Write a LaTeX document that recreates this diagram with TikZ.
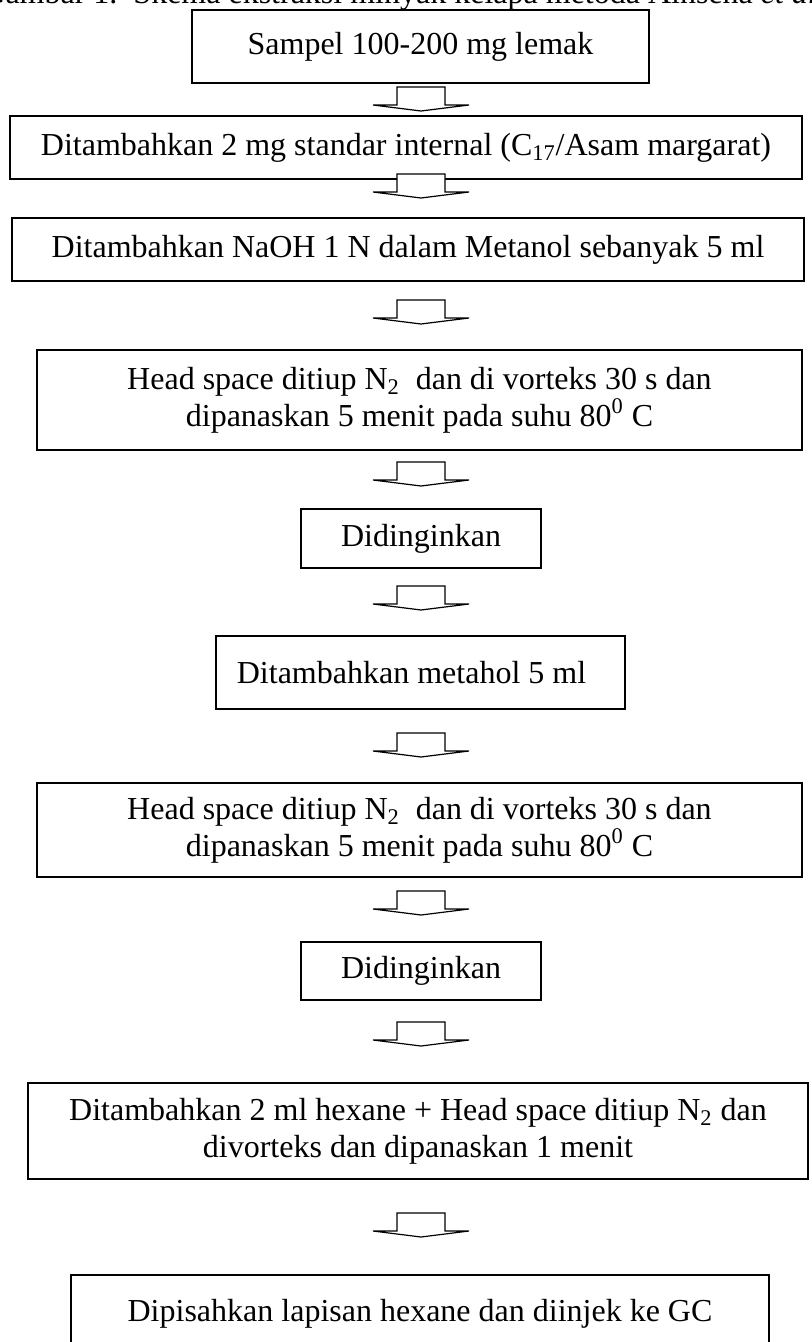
\documentclass[tikz,border=0pt]{standalone}
\usepackage{fontspec}
\setmainfont{Liberation Serif}
\begin{document}
\begin{tikzpicture}[x=0.5pt,y=-0.5pt,
  txt/.style={font=\fontsize{16}{18.5}\selectfont},
  box/.style={draw, line width=0.75pt, inner sep=0pt, align=center, txt},
  darrow/.pic={\draw[line width=0.6pt, line join=miter, fill=white]
      (-24,0) -- (24,0) -- (24,18) -- (48,18) -- (0,24) -- (-48,18) -- (-24,18) -- cycle;}
  ]
\useasboundingbox (0,0) rectangle (811,1342);
\node[txt, anchor=base west, inner sep=0pt] (cap) at (-18,4)
  {Gambar 1.\ \ Skema ekstraksi minyak kelapa metoda Ainsena \textit{et al.}};

\node[box, minimum width=228.5pt, minimum height=36.5pt] (b1) at (420.5,46.5)
  {Sampel 100-200 mg lemak};
\node[box, minimum width=396pt, minimum height=31.5pt] (b2) at (406,147.5)
  {Ditambahkan 2 mg standar internal (C\textsubscript{17}/Asam margarat)};
\node[box, minimum width=396pt, minimum height=31.5pt] (b3) at (408,249.5)
  {Ditambahkan NaOH 1 N dalam Metanol sebanyak 5 ml};
\node[box, minimum width=382.5pt, minimum height=50pt] (b4) at (419.5,400)
  {Head space ditiup N\textsubscript{2}\ \ dan di vorteks 30 s dan\\ dipanaskan 5 menit pada suhu 80\textsuperscript{0} C};
\node[box, minimum width=120pt, minimum height=29.5pt] (b5) at (421,538.5)
  {Didinginkan};
\node[box, minimum width=204.5pt, minimum height=36.5pt] (b6) at (420.5,672.5)
  {Ditambahkan metahol 5 ml\hspace*{9pt}};
\node[box, minimum width=382.5pt, minimum height=47pt] (b7) at (419.5,830)
  {Head space ditiup N\textsubscript{2}\ \ dan di vorteks 30 s dan\\ dipanaskan 5 menit pada suhu 80\textsuperscript{0} C};
\node[box, minimum width=120pt, minimum height=29pt] (b8) at (421,971)
  {Didinginkan};
\node[box, minimum width=390pt, minimum height=48pt] (b9) at (418,1131)
  {Ditambahkan 2 ml hexane + Head space ditiup N\textsubscript{2} dan\\ divorteks dan dipanaskan 1 menit};
\node[box, minimum width=349pt, minimum height=35pt, text depth=0pt] (b10) at (420,1310)
  {Dipisahkan lapisan hexane dan diinjek ke GC};

\coordinate (a1) at (421,87);
\coordinate (a2) at (421,174);
\coordinate (a3) at (421,300);
\coordinate (a4) at (421,462);
\coordinate (a5) at (421,586);
\coordinate (a6) at (421,733);
\coordinate (a7) at (421,891);
\coordinate (a8) at (421,1022);
\coordinate (a9) at (421,1213);
\foreach \a in {a1,a2,a3,a4,a5,a6,a7,a8,a9} \pic at (\a) {darrow};
\end{tikzpicture}
\end{document}
